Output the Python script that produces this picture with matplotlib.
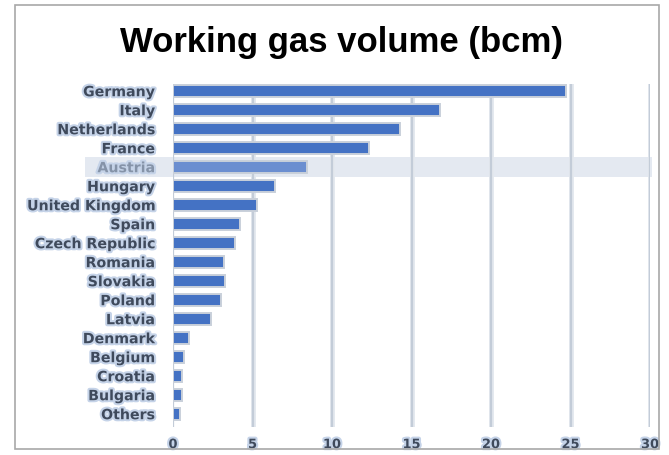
import matplotlib.pyplot as plt
import matplotlib.patheffects as pe
from matplotlib.patches import Rectangle
import matplotlib.transforms as mtransforms

countries = ['Germany', 'Italy', 'Netherlands', 'France', 'Austria', 'Hungary',
             'United Kingdom', 'Spain', 'Czech Republic', 'Romania', 'Slovakia',
             'Poland', 'Latvia', 'Denmark', 'Belgium', 'Croatia', 'Bulgaria', 'Others']
volume = [24.7, 16.8, 14.3, 12.3, 8.4, 6.4, 5.3, 4.2, 3.9, 3.2, 3.3,
          3.0, 2.4, 1.0, 0.7, 0.55, 0.55, 0.45]
highlight = 'Austria'
xticks = [0, 5, 10, 15, 20, 25, 30]

glow = [pe.withStroke(linewidth=3, foreground='#c5d3e8')]

fig = plt.figure(figsize=(6.69, 4.56), dpi=100)
ax = fig.add_axes([0.2586, 0.0614, 0.713, 0.752])

ypos = list(range(len(countries)))
colors = ['#6b8ed0' if c == highlight else '#4472c4' for c in countries]

# highlighted row band
hi = countries.index(highlight)
trans = mtransforms.blended_transform_factory(fig.transFigure, ax.transData)
band = Rectangle((85 / 669, hi - 0.52), (652 - 85) / 669, 1.04, transform=trans,
                 facecolor='#e4e9f1', edgecolor='none', zorder=0, clip_on=False)
fig.add_artist(band)

for x in xticks[1:]:
    ax.axvline(x, color='#c3ccd8', lw=1.6, zorder=1,
               path_effects=[pe.withStroke(linewidth=3.5, foreground='#e3e8ee')])
ax.axvline(0, color='#c3ccd8', lw=1.6, zorder=1)

bars = ax.barh(ypos, volume, height=0.64, color=colors, edgecolor='#c9d0da',
               linewidth=1.4, zorder=3)

ax.set_xlim(0, 30)
ax.set_ylim(17.7, -0.35)
ax.set_yticks(ypos)
ax.set_yticklabels(countries)
ax.set_xticks(xticks)
ax.tick_params(axis='y', length=0, pad=13)
ax.tick_params(axis='x', length=0, pad=8)
for lab in ax.get_yticklabels():
    lab.set_fontsize(10.2)
    lab.set_fontweight('bold')
    lab.set_color('#8593a8' if lab.get_text() == highlight else '#3f4a5c')
    lab.set_path_effects(glow)
for lab in ax.get_xticklabels():
    lab.set_fontsize(9.3)
    lab.set_fontweight('bold')
    lab.set_color('#3f4a5c')
    lab.set_path_effects(glow)
for s in ax.spines.values():
    s.set_visible(False)
ax.set_facecolor('none')

fig.text(0.51, 0.907, 'Working gas volume (bcm)', ha='center', va='center',
         fontsize=25, fontweight='bold', family='Liberation Sans', color='black')

# outer frame
fig.add_artist(Rectangle((15 / 669, 0.013), (659 - 15) / 669, 0.974,
                         transform=fig.transFigure, fill=False,
                         edgecolor='#a8a8a8', lw=1.2))

fig.savefig('out.png', dpi=100)
